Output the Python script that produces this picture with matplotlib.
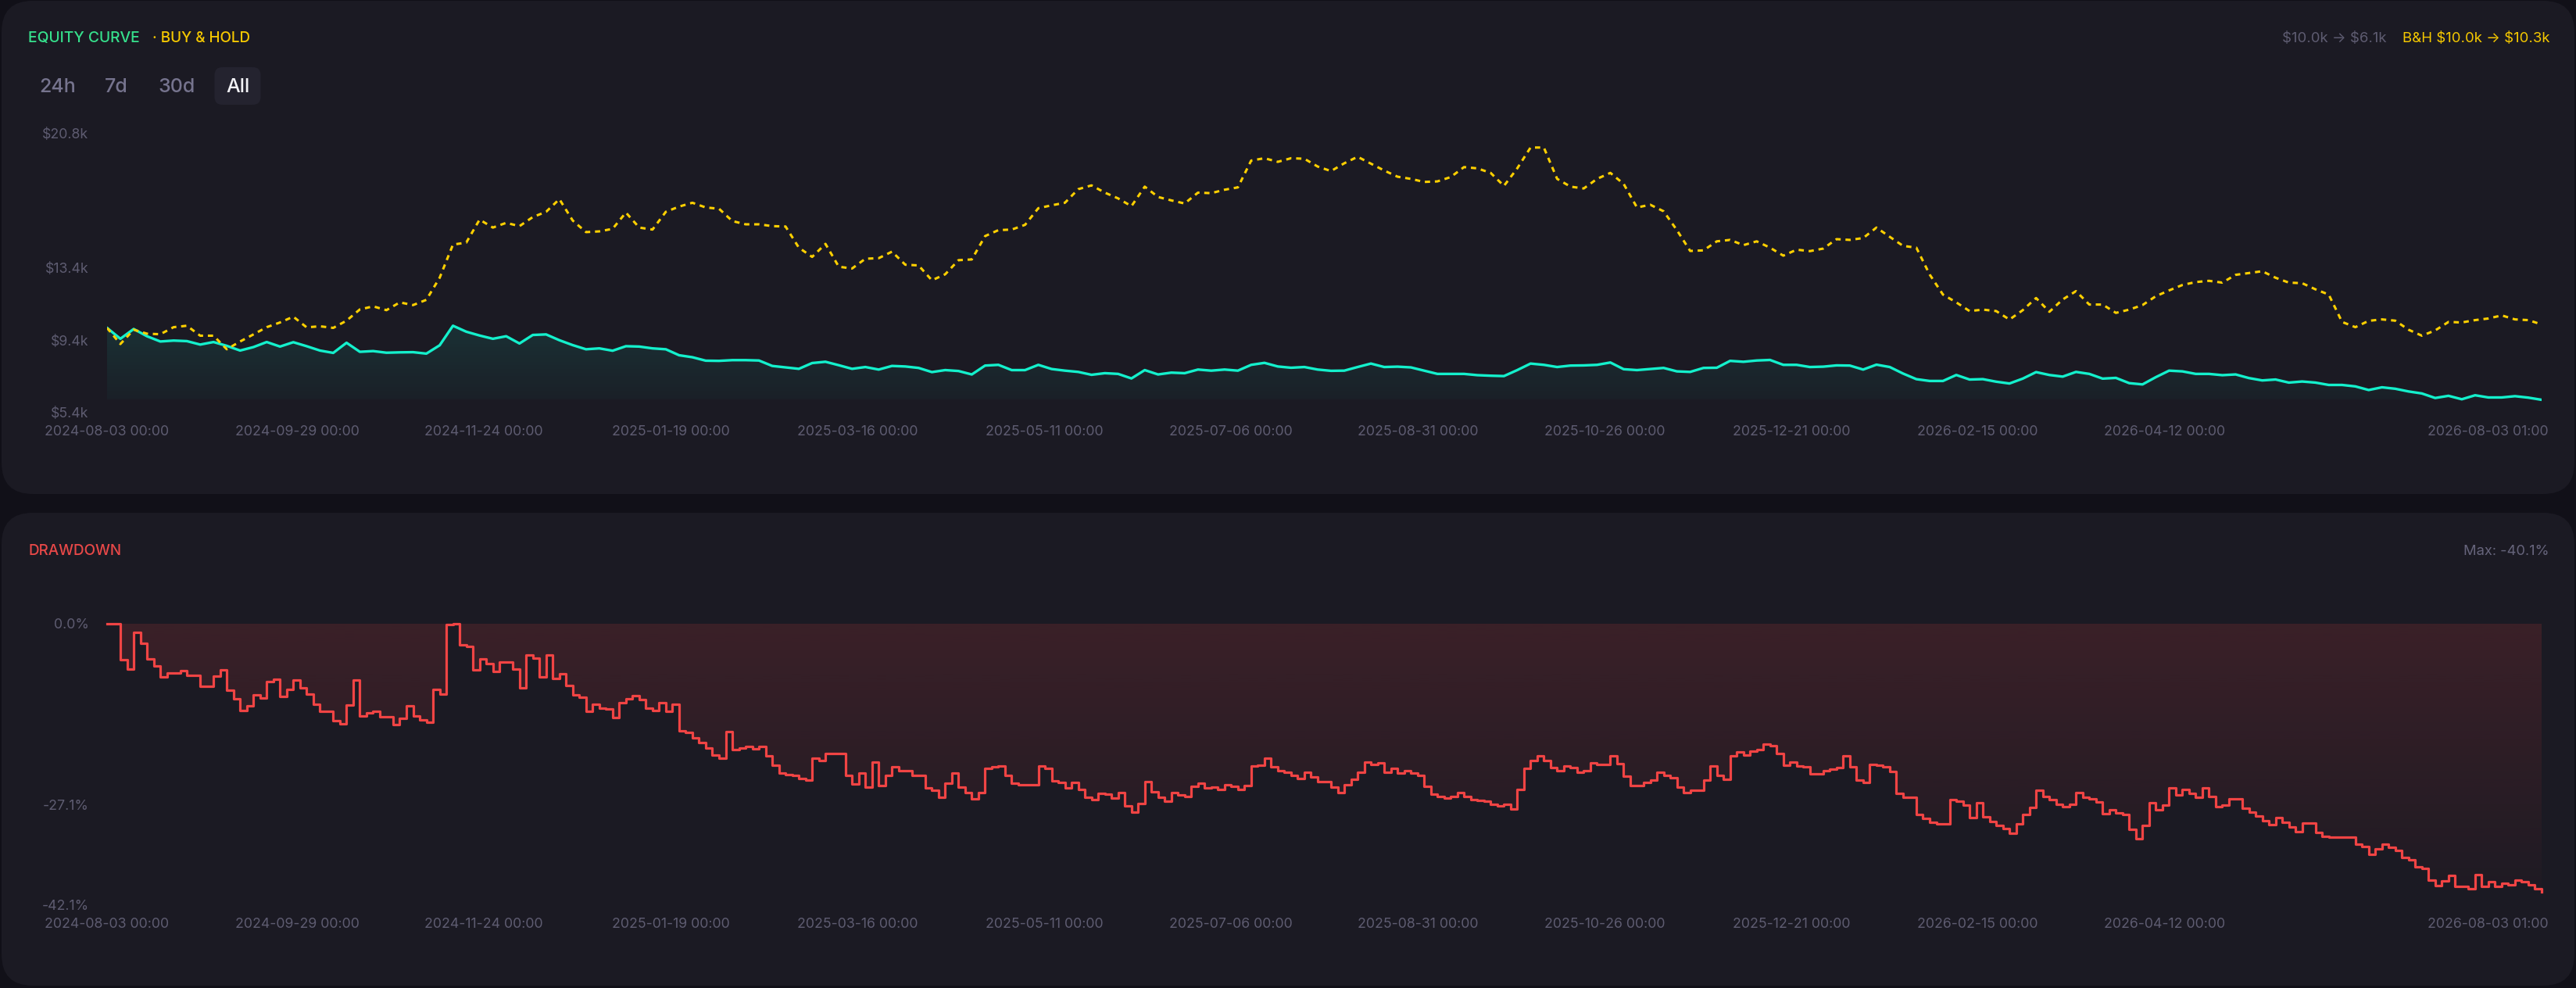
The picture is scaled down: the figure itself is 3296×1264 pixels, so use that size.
import numpy as np
import pandas as pd
import matplotlib
matplotlib.use("Agg")
import matplotlib.pyplot as plt
import matplotlib.dates as mdates
import matplotlib.colors as mcolors
from matplotlib.patches import FancyBboxPatch
from matplotlib.transforms import IdentityTransform, blended_transform_factory, offset_copy

plt.rcParams['font.family'] = ['Inter', 'DejaVu Sans']

# ---------------- data ----------------
START = "2024-08-03 00:00"
END = "2026-08-03 01:00"
N_POINTS = 367          # drawdown samples (every ~2 days)

drawdown_pct = [
    0, 0, -5.41, -6.85, -1.36, -2.92, -5.33, -6.30, -7.98, -7.35,
    -7.35, -7.08, -7.78, -7.78, -9.42, -9.42, -7.90, -6.96, -10.00, -11.25,
    -13.04, -12.33, -10.66, -11.17, -8.72, -8.37, -10.93, -9.88, -8.48, -9.61,
    -10.51, -12.02, -13.11, -13.11, -14.51, -14.98, -12.14, -8.40, -13.77, -13.39,
    -13.11, -13.93, -13.93, -15.14, -14.20, -12.26, -13.85, -14.44, -14.75, -9.88,
    -10.51, -0.19, 0, -3.19, -3.42, -6.96, -5.29, -6.03, -7.20, -5.80,
    -5.80, -6.81, -9.61, -4.75, -5.18, -7.94, -4.75, -8.21, -7.51, -9.30,
    -10.62, -10.97, -13.11, -12.10, -12.61, -12.72, -14.05, -11.79, -11.25, -10.78,
    -11.40, -12.61, -12.96, -11.83, -13.15, -12.02, -16.07, -16.30, -17.08, -17.82,
    -18.64, -19.65, -20.16, -16.15, -18.83, -18.60, -18.37, -18.75, -18.40, -19.81,
    -21.21, -22.37, -22.53, -22.72, -23.15, -23.35, -20.19, -20.47, -19.42, -19.49,
    -19.49, -22.68, -24.01, -22.37, -24.47, -20.70, -24.24, -22.68, -21.40, -21.98,
    -21.98, -22.65, -22.65, -24.59, -24.90, -25.95, -23.89, -22.37, -24.40, -25.29,
    -26.26, -25.29, -21.67, -21.44, -21.28, -22.68, -23.85, -24.09, -24.09, -24.09,
    -21.32, -21.67, -23.54, -23.70, -24.59, -23.74, -24.79, -25.95, -26.34, -25.41,
    -25.53, -26.07, -25.33, -27.24, -28.21, -26.89, -23.66, -25.14, -26.03, -26.61,
    -25.29, -25.64, -25.84, -24.36, -23.85, -24.63, -24.40, -24.79, -24.09, -24.32,
    -24.79, -24.20, -21.28, -21.17, -20.16, -21.36, -21.98, -22.26, -22.68, -23.15,
    -22.26, -22.96, -23.62, -23.62, -24.40, -25.25, -24.12, -23.31, -22.26, -20.70,
    -21.09, -20.82, -22.26, -21.60, -22.37, -21.98, -22.37, -22.65, -24.32, -25.53,
    -25.84, -26.07, -25.80, -25.33, -25.80, -26.38, -26.46, -26.61, -27.04, -27.28,
    -27.04, -27.70, -24.86, -21.67, -20.51, -19.81, -20.43, -21.48, -22.06, -21.28,
    -21.56, -22.26, -21.95, -20.82, -21.09, -21.09, -19.81, -20.97, -22.84, -24.20,
    -24.20, -23.74, -23.42, -22.26, -22.76, -23.07, -24.47, -25.25, -24.90, -24.90,
    -23.42, -21.28, -22.68, -23.27, -19.81, -19.22, -19.61, -19.03, -18.87, -18.02,
    -18.25, -19.38, -21.17, -20.74, -21.28, -21.44, -22.45, -22.45, -22.06, -21.75,
    -21.56, -19.84, -21.40, -23.42, -23.74, -21.05, -21.21, -21.44, -22.10, -25.41,
    -25.95, -25.95, -28.60, -29.18, -29.77, -30.00, -30.00, -26.30, -26.61, -27.12,
    -28.99, -26.81, -28.87, -29.65, -30.16, -30.70, -31.32, -29.92, -28.60, -27.51,
    -24.90, -25.88, -26.34, -27.00, -27.39, -27.00, -25.29, -25.95, -26.23, -26.69,
    -28.48, -27.90, -28.37, -28.60, -30.74, -32.18, -30.19, -26.77, -27.86, -27.12,
    -24.55, -25.64, -24.86, -25.37, -25.95, -24.55, -25.80, -27.39, -27.12, -26.23,
    -26.23, -27.59, -28.17, -28.79, -29.53, -30.04, -29.03, -29.77, -30.47, -31.13,
    -29.84, -29.84, -31.21, -31.83, -31.98, -31.98, -31.98, -31.98, -32.96, -33.35,
    -34.51, -33.66, -33.04, -33.42, -33.97, -34.98, -35.33, -36.38, -36.65, -38.40,
    -39.18, -38.48, -37.67, -39.30, -39.30, -39.69, -37.55, -39.30, -38.64, -39.30,
    -38.83, -39.03, -38.40, -38.64, -39.11, -39.69, -40.10,
]

# strategy equity, $k, every other drawdown sample
equity_k = [
    10.07, 9.47, 10.01, 9.61, 9.32, 9.37, 9.34, 9.15, 9.29, 9.08,
    8.82, 9.01, 9.29, 9.04, 9.28, 9.06, 8.82, 8.69, 9.25, 8.75,
    8.79, 8.70, 8.72, 8.73, 8.65, 9.11, 10.19, 9.86, 9.65, 9.47,
    9.61, 9.21, 9.68, 9.71, 9.39, 9.12, 8.89, 8.94, 8.81, 9.06,
    9.04, 8.94, 8.89, 8.56, 8.45, 8.26, 8.25, 8.29, 8.29, 8.27,
    7.97, 7.89, 7.81, 8.13, 8.20, 8.01, 7.81, 7.91, 7.77, 7.97,
    7.94, 7.86, 7.63, 7.74, 7.69, 7.50, 7.99, 8.03, 7.74, 7.74,
    8.03, 7.80, 7.71, 7.64, 7.48, 7.57, 7.53, 7.28, 7.74, 7.50,
    7.60, 7.57, 7.77, 7.71, 7.77, 7.71, 8.03, 8.14, 7.94, 7.87,
    7.91, 7.77, 7.70, 7.71, 7.91, 8.10, 7.91, 7.93, 7.89, 7.71,
    7.53, 7.53, 7.53, 7.46, 7.43, 7.41, 7.74, 8.10, 8.03, 7.91,
    7.99, 8.00, 8.03, 8.16, 7.79, 7.74, 7.80, 7.86, 7.67, 7.64,
    7.86, 7.87, 8.25, 8.20, 8.27, 8.30, 8.03, 8.03, 7.91, 7.93,
    8.00, 7.99, 7.77, 8.04, 7.91, 7.55, 7.24, 7.14, 7.14, 7.47,
    7.22, 7.24, 7.10, 7.00, 7.27, 7.63, 7.47, 7.38, 7.64, 7.53,
    7.27, 7.31, 7.02, 6.95, 7.35, 7.71, 7.67, 7.53, 7.53, 7.46,
    7.50, 7.30, 7.17, 7.22, 7.05, 7.11, 7.05, 6.92, 6.92, 6.84,
    6.64, 6.79, 6.71, 6.56, 6.45, 6.20, 6.32, 6.13, 6.35, 6.23,
    6.23, 6.30, 6.22, 6.10,
]

# buy & hold equity, $k
buyhold_k = [
    10.07, 9.18, 9.97, 9.75, 9.72, 10.11, 10.19, 9.64, 9.64, 8.89,
    9.32, 9.71, 10.11, 10.37, 10.69, 10.10, 10.16, 10.07, 10.47, 11.09,
    11.26, 11.05, 11.48, 11.33, 11.62, 12.84, 14.67, 14.78, 16.05, 15.61,
    15.87, 15.69, 16.19, 16.48, 17.18, 16.00, 15.36, 15.40, 15.54, 16.44,
    15.61, 15.50, 16.48, 16.77, 16.98, 16.72, 16.65, 15.97, 15.79, 15.79,
    15.69, 15.67, 14.50, 13.99, 14.71, 13.45, 13.35, 13.89, 13.92, 14.28,
    13.56, 13.52, 12.70, 13.03, 13.81, 13.85, 15.14, 15.47, 15.50, 15.76,
    16.68, 16.84, 16.98, 17.73, 17.94, 17.54, 17.22, 16.79, 17.87, 17.30,
    17.11, 16.94, 17.54, 17.51, 17.70, 17.83, 19.31, 19.44, 19.24, 19.44,
    19.41, 18.98, 18.73, 19.16, 19.52, 19.14, 18.76, 18.42, 18.30, 18.13,
    18.16, 18.40, 18.95, 18.88, 18.63, 17.91, 18.88, 20.03, 20.03, 18.30,
    17.87, 17.77, 18.30, 18.63, 18.02, 16.72, 16.87, 16.51, 15.47, 14.32,
    14.35, 14.85, 14.93, 14.64, 14.85, 14.50, 14.06, 14.39, 14.31, 14.45,
    14.97, 14.93, 15.03, 15.61, 15.10, 14.60, 14.50, 13.02, 11.91, 11.48,
    11.00, 11.08, 11.00, 10.53, 11.05, 11.72, 10.96, 11.64, 12.10, 11.36,
    11.36, 10.90, 11.08, 11.33, 11.82, 12.14, 12.44, 12.60, 12.67, 12.57,
    13.00, 13.10, 13.20, 12.84, 12.57, 12.54, 12.20, 11.91, 10.40, 10.11,
    10.46, 10.54, 10.47, 9.97, 9.64, 9.93, 10.40, 10.37, 10.50, 10.59,
    10.76, 10.54, 10.50, 10.26,
]

tick_dates = ["2024-08-03 00:00", "2024-09-29 00:00", "2024-11-24 00:00",
              "2025-01-19 00:00", "2025-03-16 00:00", "2025-05-11 00:00",
              "2025-07-06 00:00", "2025-08-31 00:00", "2025-10-26 00:00",
              "2025-12-21 00:00", "2026-02-15 00:00", "2026-04-12 00:00",
              "2026-08-03 01:00"]
eq_ticks = [5.4, 9.4, 13.4, 20.8]
eq_tick_labels = ["$5.4k", "$9.4k", "$13.4k", "$20.8k"]
dd_ticks = [0.0, -27.1, -42.1]
dd_tick_labels = ["0.0%", "-27.1%", "-42.1%"]

# ---------------- style ----------------
OUTER = "#111018"
PANEL = "#1b1a23"
GRAY = "#5e5c71"
GREEN = "#36e08c"
YELLOW_T = "#f5c800"
YELLOW = "#ffd000"
TEAL = "#14f0cc"
RED = "#f04444"

W, H = 3296, 1264
fig = plt.figure(figsize=(W / 100, H / 100), dpi=100)
fig.patch.set_facecolor(OUTER)


def panel(x0, y0, x1, y1, color=PANEL, r=40):
    p = FancyBboxPatch((x0, H - y1), x1 - x0, y1 - y0,
                       boxstyle=f"round,pad=0,rounding_size={r}",
                       transform=IdentityTransform(), facecolor=color,
                       edgecolor="none", zorder=0)
    fig.add_artist(p)


def ftext(x, ybase, s, **kw):
    fig.text(x / W, 1 - ybase / H, s, va="baseline", parse_math=False, **kw)


panel(2, 1, 3294, 632)
panel(2, 656, 3294, 1261)

# header texts
ftext(36, 54.3, "EQUITY CURVE", color=GREEN, fontsize=13.9, fontweight="medium", ha="left")
ftext(195, 54.3, "· BUY & HOLD", color=YELLOW_T, fontsize=13.6, fontweight="medium", ha="left")
ftext(3262, 54.3, "B&H $10.0k → $10.3k", color=YELLOW_T, fontsize=13.4, ha="right")
ftext(3054, 54.3, "$10.0k → $6.1k", color=GRAY, fontsize=13.4, ha="right")

# range buttons
panel(274.5, 86, 333.5, 134, color="#24232f", r=10)
for cx, lab, col in [(73.5, "24h", "#76748e"), (149, "7d", "#76748e"),
                     (226.5, "30d", "#76748e"), (304, "All", "#f2f2f6")]:
    ftext(cx, 118.3, lab, color=col, fontsize=18, fontweight="medium", ha="center")

ftext(36, 709.5, "DRAWDOWN", color="#e84848", fontsize=13.6, fontweight="medium", ha="left")
ftext(3261, 710, "Max: -40.1%", color="#66647b", fontsize=13.2, ha="right")

# ---------------- axes ----------------
L, R = 137, 3252


def add_ax(top, bottom):
    ax = fig.add_axes([L / W, 1 - bottom / H, (R - L) / W, (bottom - top) / H])
    ax.set_facecolor("none")
    for s in ax.spines.values():
        s.set_visible(False)
    ax.set_xticks([])
    return ax


times = pd.date_range(START, END, periods=N_POINTS)
x_all = mdates.date2num(times.to_pydatetime())
x_eq = x_all[::2]
eq = np.array(equity_k)
bh = np.array(buyhold_k)
dd = np.array(drawdown_pct)


def gradient_fill(ax, x, y, base, color, a_top, a_bot, step=None):
    poly = ax.fill_between(x, y, base, step=step, facecolor="none",
                           edgecolor="none", linewidth=0)
    path = poly.get_paths()[0]
    ylo, yhi = min(np.min(y), base), max(np.max(y), base)
    grad = np.zeros((256, 1, 4))
    grad[:, 0, :3] = mcolors.to_rgb(color)
    grad[:, 0, 3] = np.linspace(a_bot, a_top, 256)
    im = ax.imshow(grad, aspect="auto", origin="lower",
                   extent=[x[0], x[-1], ylo, yhi], zorder=1,
                   interpolation="bilinear")
    im.set_clip_path(path, ax.transData)


def x_labels(ax, base_offset):
    trans = offset_copy(blended_transform_factory(ax.transData, ax.transAxes),
                        fig=fig, x=0, y=-base_offset, units="dots")
    tnum = mdates.date2num(pd.to_datetime(tick_dates).to_pydatetime())
    for i, (t, lab) in enumerate(zip(tnum, tick_dates)):
        if i == len(tick_dates) - 1:
            tr = offset_copy(trans, fig=fig, x=9, y=0, units="dots")
            ax.text(t, 0, lab, transform=tr, ha="right", va="baseline",
                    color=GRAY, fontsize=12.8)
        else:
            ax.text(t, 0, lab, transform=trans, ha="center", va="baseline",
                    color=GRAY, fontsize=12.8)


# equity chart
ax1 = add_ax(170.9, 527.7)
gradient_fill(ax1, x_eq, eq, eq.min(), TEAL, 0.11, 0.03)
ax1.plot(x_eq, eq, color=TEAL, lw=2.4, solid_joinstyle="round", zorder=3)
ax1.plot(x_eq, bh, color=YELLOW, lw=2.2, linestyle=(0, (2.2, 2.0)),
         dash_capstyle="butt", zorder=4)
ax1.set_xlim(x_all[0], x_all[-1])
ax1.set_ylim(5.4, 20.8)
ax1.set_yticks(eq_ticks, eq_tick_labels)
ax1.tick_params(axis="y", length=0, pad=17, labelsize=12.8, labelcolor=GRAY)
x_labels(ax1, 29.0)

# drawdown chart
ax2 = add_ax(797.7, 1158)
gradient_fill(ax2, x_all, dd, 0.0, RED, 0.15, 0.02, step="post")
ax2.plot(x_all, dd, color=RED, lw=2.3, drawstyle="steps-post", zorder=3, clip_on=False)
ax2.set_xlim(x_all[0], x_all[-1])
ax2.set_ylim(-42.1, 0)
ax2.set_yticks(dd_ticks, dd_tick_labels)
ax2.tick_params(axis="y", length=0, pad=17, labelsize=12.8, labelcolor=GRAY)
x_labels(ax2, 28.7)

fig.savefig("out.png", dpi=100, facecolor=OUTER)
